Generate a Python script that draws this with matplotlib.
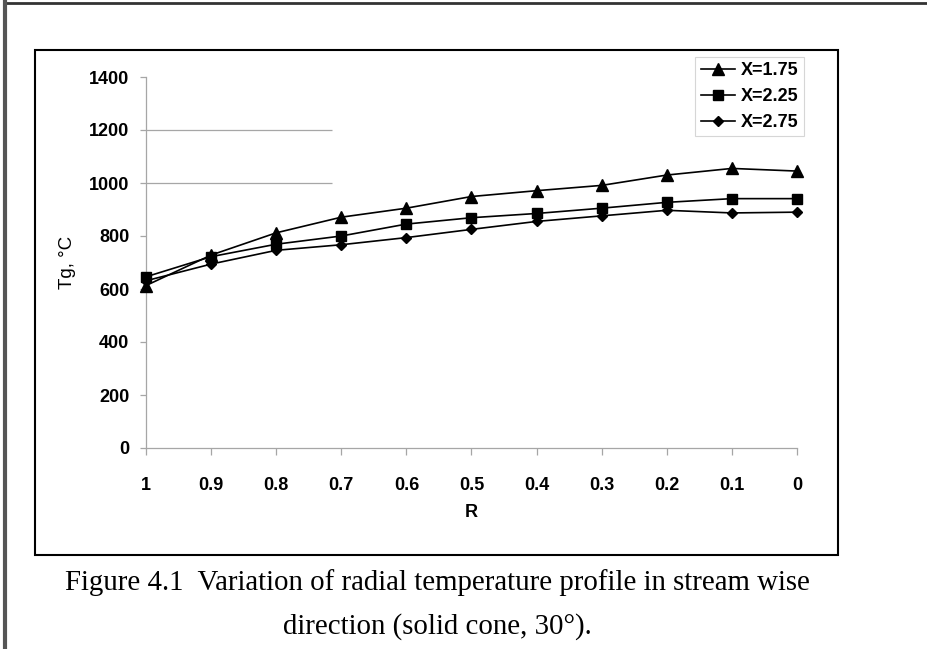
import matplotlib.pyplot as plt
from matplotlib.lines import Line2D
from matplotlib.patches import Rectangle

# data
r_vals = [1, 0.9, 0.8, 0.7, 0.6, 0.5, 0.4, 0.3, 0.2, 0.1, 0]
r_labels = ["1", "0.9", "0.8", "0.7", "0.6", "0.5", "0.4", "0.3", "0.2", "0.1", "0"]
tg_x175 = [613, 728, 812, 871, 905, 949, 971, 991, 1030, 1055, 1045]
tg_x225 = [646, 722, 769, 800, 845, 869, 885, 905, 927, 941, 941]
tg_x275 = [631, 694, 746, 767, 794, 825, 855, 876, 897, 887, 890]
series_names = ["X=1.75", "X=2.25", "X=2.75"]
y_ticks = [0, 200, 400, 600, 800, 1000, 1200, 1400]

plt.rcParams['font.family'] = ['Liberation Sans', 'DejaVu Sans']

fig = plt.figure(figsize=(9.28, 6.49), dpi=100)
W, H = 928, 649

def fx(px):
    return px / W

def fy(py):
    return 1 - py / H

# page frame: top rule and left bar
fig.add_artist(Line2D([fx(4), 1], [fy(3), fy(3)], color="#333333", lw=2))
fig.add_artist(Line2D([fx(5), fx(5)], [fy(2), 0], color="#555555", lw=3))

# chart box
fig.add_artist(Rectangle((fx(35), fy(555)), fx(838) - fx(35), fy(50) - fy(555),
                         fill=False, edgecolor="black", lw=1.5))

ax = fig.add_axes([fx(146), fy(448), fx(797) - fx(146), fy(77) - fy(448)])
ax.set_xlim(1, 0)
ax.set_ylim(0, 1400)

gray = "#a6a6a6"
ax.hlines([1000, 1200], 1, 0.715, color=gray, lw=0.9)

markers = ["^", "s", "D"]
msizes = [8, 7.5, 5.5]
for vals, name, m, ms in zip([tg_x175, tg_x225, tg_x275], series_names, markers, msizes):
    ax.plot(r_vals, vals, color="black", lw=1.2, marker=m, markersize=ms,
            label=name, clip_on=False, zorder=3)

for s in ["top", "right"]:
    ax.spines[s].set_visible(False)
for s in ["left", "bottom"]:
    ax.spines[s].set_color(gray)
    ax.spines[s].set_linewidth(0.9)

ax.set_xticks(r_vals)
ax.set_xticklabels(r_labels, fontsize=13, fontweight="bold")
ax.set_yticks(y_ticks)
ax.set_yticklabels([str(v) for v in y_ticks], fontsize=13, fontweight="bold")
ax.tick_params(axis="x", length=5, color=gray, width=0.9, pad=16)
ax.tick_params(axis="y", length=4, color=gray, width=0.9, pad=8)

ax.set_xlabel("R", fontsize=13, fontweight="bold", labelpad=7)
ax.set_ylabel("Tg, °C", fontsize=13.5, labelpad=9)

leg = ax.legend(loc="upper right", bbox_to_anchor=(1.01, 1.055),
                prop={"weight": "bold", "size": 13}, frameon=True, fancybox=False,
                edgecolor="#cccccc", handlelength=1.9, handletextpad=0.3,
                borderpad=0.3, labelspacing=0.5, borderaxespad=0)
leg.get_frame().set_linewidth(0.8)

cx = fx(437)
fig.text(cx, fy(583), "Figure 4.1  Variation of radial temperature profile in stream wise",
         ha="center", va="center", fontsize=20.8, family="Liberation Serif")
fig.text(cx, fy(627), "direction (solid cone, 30°).",
         ha="center", va="center", fontsize=20.8, family="Liberation Serif")

fig.savefig("out.png", dpi=100)
